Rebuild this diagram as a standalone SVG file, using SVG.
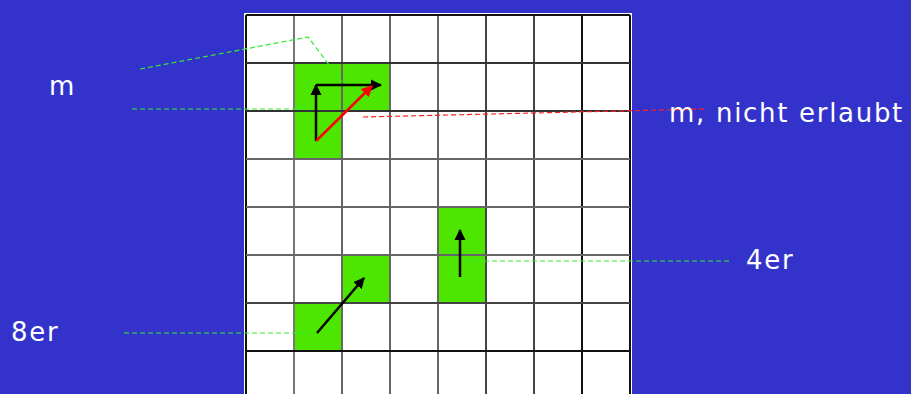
<svg xmlns="http://www.w3.org/2000/svg" width="911" height="394" viewBox="0 0 911 394">
<defs>
<style>
.lbl{font-family:"DejaVu Sans","Liberation Sans",sans-serif;font-size:26px;letter-spacing:1.7px;fill:#ffffff}
.cell{fill:#4ce600}
.g{stroke:#666;stroke-width:2}
.k{stroke:#111;stroke-width:2}
.dg{stroke:#33ee33;stroke-width:1.2;stroke-dasharray:5 3;fill:none}
.dr{stroke:#ff2020;stroke-width:1.2;stroke-dasharray:5 3;fill:none}
.ab{stroke:#000;stroke-width:2.5;fill:none;marker-end:url(#hb)}
.ar{stroke:#ff0000;stroke-width:2.5;fill:none;marker-end:url(#hr)}
</style>
<marker id="hb" viewBox="0 0 10 10" refX="9" refY="5" markerWidth="4.5" markerHeight="4.5" orient="auto" markerUnits="strokeWidth"><path d="M0,0 L10,5 L0,10 z" fill="#000"/></marker>
<marker id="hr" viewBox="0 0 10 10" refX="9" refY="5" markerWidth="4.5" markerHeight="4.5" orient="auto" markerUnits="strokeWidth"><path d="M0,0 L10,5 L0,10 z" fill="#ff0000"/></marker>
</defs>
<rect x="0" y="0" width="911" height="394" fill="#3333cc"/>
<g id="grid">
<rect x="244" y="13" width="388" height="381" fill="#ffffff"/>
<rect class="cell" x="294" y="63" width="48" height="48"/>
<rect class="cell" x="342" y="63" width="48" height="48"/>
<rect class="cell" x="294" y="111" width="48" height="48"/>
<rect class="cell" x="438" y="207" width="48" height="48"/>
<rect class="cell" x="438" y="255" width="48" height="48"/>
<rect class="cell" x="342" y="255" width="48" height="48"/>
<rect class="cell" x="294" y="303" width="48" height="48"/>
<line class="k" x1="246" y1="15" x2="246" y2="394"/>
<line class="g" x1="294" y1="15" x2="294" y2="394" style="stroke:#777"/>
<line class="g" x1="342" y1="15" x2="342" y2="394"/>
<line class="g" x1="390" y1="15" x2="390" y2="394"/>
<line class="g" x1="438" y1="15" x2="438" y2="394"/>
<line class="k" x1="486" y1="15" x2="486" y2="394" style="stroke:#444"/>
<line class="k" x1="534" y1="15" x2="534" y2="394" style="stroke:#444"/>
<line class="k" x1="582" y1="15" x2="582" y2="394"/>
<line class="k" x1="630" y1="15" x2="630" y2="394"/>
<line class="k" x1="246" y1="15" x2="630" y2="15"/>
<line class="k" x1="246" y1="63" x2="630" y2="63" style="stroke:#333"/>
<line class="k" x1="246" y1="111" x2="630" y2="111" style="stroke:#333"/>
<line class="g" x1="246" y1="159" x2="630" y2="159"/>
<line class="g" x1="246" y1="207" x2="630" y2="207"/>
<line class="g" x1="246" y1="255" x2="630" y2="255"/>
<line class="k" x1="246" y1="303" x2="630" y2="303" style="stroke:#444"/>
<line class="k" x1="246" y1="351" x2="630" y2="351"/>
</g>
<g id="connectors">
<polyline class="dg" points="140,69 308,37 342,82"/>
<line class="dg" x1="132" y1="109" x2="306" y2="109"/>
<line class="dr" x1="363" y1="117" x2="705" y2="109"/>
<line class="dg" x1="468" y1="261" x2="732" y2="261"/>
<line class="dg" x1="124" y1="333" x2="316" y2="333"/>
<line class="ab" x1="316" y1="141" x2="316" y2="85"/>
<line class="ab" x1="316" y1="85" x2="381" y2="85"/>
<line class="ar" x1="316" y1="141" x2="372" y2="86"/>
<line class="ab" x1="460" y1="277" x2="460" y2="230"/>
<line class="ab" x1="317" y1="333" x2="364" y2="278"/>
</g>
<g id="label-m"><text class="lbl" x="49" y="95">m</text></g>
<g id="label-nicht"><text class="lbl" x="669" y="122">m, nicht erlaubt</text></g>
<g id="label-4er"><text class="lbl" x="746" y="269">4er</text></g>
<g id="label-8er"><text class="lbl" x="11" y="341">8er</text></g>
</svg>
